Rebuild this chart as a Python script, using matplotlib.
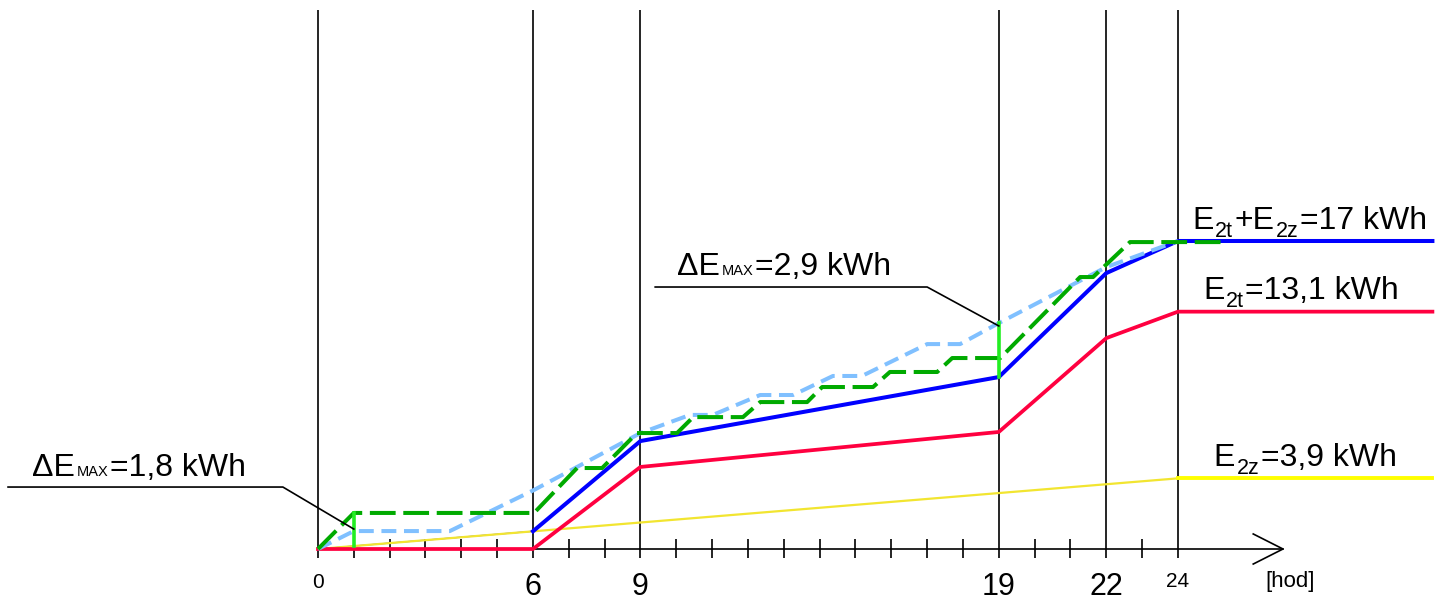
import numpy as np
import matplotlib
matplotlib.use("Agg")
import matplotlib.pyplot as plt

plt.rcParams['font.family'] = ['Liberation Sans', 'DejaVu Sans']

# hours of the tariff switch points, last value = end of the drawn line
hours = [0, 6, 9, 19, 22, 24, 31.1]
e_total = [0, 0.98, 5.96, 9.49, 15.23, 17.0, 17.0]   # E2t + E2z
e_2t = [0, 0, 4.53, 6.46, 11.64, 13.1, 13.1]
hours_2z = [0, 24, 31.1]
e_2z = [0, 3.9, 3.9]

# light blue dashed curve
t_est = [0, 1.0, 3.68, 6.03, 9.0, 10.38, 11.02, 12.34, 13.26, 14.37, 15.18,
         17.0, 17.92, 19.0, 22.0, 24.0]
e_est = [0, 0.99, 0.99, 3.26, 6.4, 7.4, 7.4, 8.5, 8.5, 9.55, 9.55,
         11.31, 11.31, 12.47, 15.56, 17.0]

# green stepped dashed curve
t_step = [0, 1.0, 6.03, 7.23, 7.93, 8.9, 10.02, 10.47, 11.86, 12.34, 13.65,
          14.07, 15.49, 15.96, 17.28, 17.7, 19.04, 21.27, 21.63, 22.66, 25.3]
e_step = [0, 1.99, 1.99, 4.47, 4.47, 6.4, 6.4, 7.28, 7.28, 8.11, 8.11,
          8.94, 8.94, 9.77, 9.77, 10.54, 10.54, 15.01, 15.01, 16.94, 16.94]

main_ticks = [0, 6, 9, 19, 22, 24]
big_labels = ['6', '9', '19', '22']

fig = plt.figure(figsize=(14.43, 6.0), dpi=100)
ax = fig.add_axes([0, 0, 1, 1])
ax.axis('off')
ax.set_xlim(-318 / 35.833, (1443 - 318) / 35.833)
ax.set_ylim(-51 / 18.118, 549 / 18.118)
renderer = fig.canvas.get_renderer()

# axis, grid lines, ticks
ax.vlines(main_ticks, -0.5, 29.75, color='black', lw=1.2, zorder=1)
minor = [h for h in range(1, 24) if h not in main_ticks]
ax.vlines(minor, -0.5, 0.55, color='black', lw=1.2, zorder=1)
ax.plot([0, 26.93], [0, 0], color='black', lw=1.2, zorder=1)
ax.plot([26.1, 26.93, 26.1], [0.83, 0, -0.83], color='black', lw=1.2, zorder=1)

# series
ax.plot(hours_2z[:2], e_2z[:2], color='#f2e530', lw=1.6, zorder=3)
ax.plot(hours_2z[1:], e_2z[1:], color='#ffff00', lw=2.8, zorder=3)
ax.plot(hours, e_2t, color='#ff0040', lw=2.7, zorder=3)
ax.plot(hours[:2], e_total[:2], color='#2020ff', lw=0.9, zorder=2)
ax.plot(hours[1:], e_total[1:], color='#0000ff', lw=2.9, zorder=4)
ax.plot(t_est, e_est, color='#80c0ff', lw=2.9, dashes=(3.7, 1.9), zorder=5)
ax.plot(t_step, e_step, color='#00aa00', lw=2.9, dashes=(6.4, 1.9), zorder=6)

# delta E max markers
ax.plot([1, 1], [np.interp(1, hours, e_total), np.interp(1, t_step, e_step)],
        color='#22ee22', lw=2.6, zorder=7)
ax.plot([19, 19], [np.interp(19, hours, e_total), np.interp(19, t_est, e_est)],
        color='#22ee22', lw=2.6, zorder=7)

ax.plot([-8.65, -0.98, 1.0], [3.42, 3.42, 1.10], color='black', lw=1.2, zorder=8)
ax.plot([9.41, 17.0, 19.0], [14.46, 14.46, 12.31], color='black', lw=1.2, zorder=8)


def chain(x, y, parts):
    off = 0.0
    for s, size, dy in parts:
        t = ax.annotate(s, (x, y), xytext=(off, dy), textcoords='offset pixels',
                        fontsize=size, va='baseline', ha='left', zorder=9)
        off += t.get_window_extent(renderer).width + 1.5


big, sub = 23, 15.5
chain(-7.98, 4.03, [('ΔE', big, 0), ('MAX', 10.5, 0), ('=1,8 kWh', big, 0)])
chain(10.02, 15.12, [('ΔE', big, 0), ('MAX', 10.5, 0), ('=2,9 kWh', big, 0)])
chain(24.4, e_total[-1] + 0.66,
      [('E', big, 0), ('2t', sub, -8), ('+E', big, 0), ('2z', sub, -8), ('=17 kWh', big, 0)])
chain(24.7, e_2t[-1] + 0.72, [('E', big, 0), ('2t', sub, -8), ('=13,1 kWh', big, 0)])
chain(25.0, e_2z[-1] + 0.66, [('E', big, 0), ('2z', sub, -8), ('=3,9 kWh', big, 0)])

# tick labels
ax.text(0, -2.15, '0', fontsize=15, ha='center', va='baseline')
for lab in big_labels:
    ax.text(float(lab), -2.55, lab, fontsize=22, ha='center', va='baseline')
ax.text(24, -2.10, '24', fontsize=15, ha='center', va='baseline')
ax.text(26.43, -2.10, '[hod]', fontsize=16, ha='left', va='baseline')

fig.savefig('out.png', dpi=100)
